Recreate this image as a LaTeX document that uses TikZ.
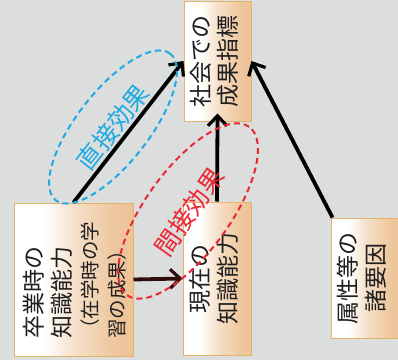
\documentclass[tikz,border=0pt]{standalone}
\usepackage{fontspec}
\newfontfamily\jp{Noto Sans CJK JP}
\usetikzlibrary{arrows.meta}
\definecolor{bg}{RGB}{220,222,222}
\definecolor{boxtan}{RGB}{236,192,146}
\definecolor{boxtanlt}{RGB}{244,214,182}
\definecolor{boxedge}{RGB}{228,178,105}
\definecolor{effblue}{RGB}{30,170,226}
\definecolor{effred}{RGB}{236,38,50}
\definecolor{txt}{RGB}{30,30,30}
\definecolor{darkarrow}{RGB}{45,12,12}
\pgfdeclarehorizontalshading{boxshade}{100bp}{color(0bp)=(white); color(25bp)=(white); color(38bp)=(boxtan!50!white); color(54bp)=(boxtan!88!white); color(66bp)=(boxtan); color(72bp)=(boxtan); color(75bp)=(boxtanlt)}
\newcommand\bigjp{\fontsize{23}{27}\selectfont}
\newcommand\smalljp{\fontsize{19.5}{27}\selectfont}
\tikzset{
  x=1pt, y=1pt,
  databox/.style={draw=boxedge, line width=1pt, shading=boxshade, shading angle=0, inner sep=0pt, text=txt},
  boxtext/.style={rotate=90, inner sep=0pt, text=txt, font=\jp\bigjp},
  conn/.style={line width=3.8pt, -{Straight Barb[length=10pt,width=19pt,line width=3.2pt]}},
  effellipse/.style={dash pattern=on 6pt off 4pt, line width=2pt},
}
\begin{document}
\begin{tikzpicture}
\fill[bg] (0,0) rectangle (398,360);
\useasboundingbox (0,0) rectangle (398,360);
% boxes
\node[databox, minimum width=67pt, minimum height=120pt] (top) at (217.5,299) {};
\node[databox, minimum width=119pt, minimum height=153pt] (left) at (73.5,80.5) {};
\node[databox, minimum width=68pt, minimum height=153pt] (mid) at (217,81.5) {};
\node[databox, minimum width=70pt, minimum height=120pt] (right) at (366,82) {};
% texts
\node[boxtext] (toptext) at (top.center) {\begin{tabular}{@{}c@{}}\bigjp 社会での\\\bigjp 成果指標\end{tabular}};
\node[boxtext] (midtext) at (mid.center) {\begin{tabular}{@{}c@{}}\bigjp 現在の\\\bigjp 知識能力\end{tabular}};
\node[boxtext] (righttext) at (365,82) {\begin{tabular}{@{}c@{}}\bigjp 属性等の\\\bigjp 諸要因\end{tabular}};
\node[boxtext] (lefttext) at (78,80) {\begin{tabular}{@{}l@{}}\bigjp 卒業時の\\\bigjp 知識能力\\\smalljp （在学時の学\\\smalljp 習の成果）\end{tabular}};
% connectors
\draw[conn] (left.north) -- (top.west);
\draw[conn, shorten >=-8pt] (mid.north) -- (top.south);
\draw[conn, darkarrow] (left.east) -- (mid.west);
\draw[conn] ([xshift=2pt]right.north west) -- (top.east);
% effect ellipses
\draw[effellipse, effblue, rotate around={52:(113,233)}] (113,233) ellipse [x radius=93, y radius=36];
\draw[effellipse, effred, rotate around={54:(188,149)}] (188,149) ellipse [x radius=104, y radius=42];
\node[rotate=52, text=effblue, font=\jp\fontsize{25}{25}\selectfont, inner sep=0pt] (direct) at (113,233) {直接効果};
\node[rotate=55, text=effred, font=\jp\fontsize{25}{25}\selectfont, inner sep=0pt] (indirect) at (189,148) {間接効果};
\end{tikzpicture}
\end{document}
